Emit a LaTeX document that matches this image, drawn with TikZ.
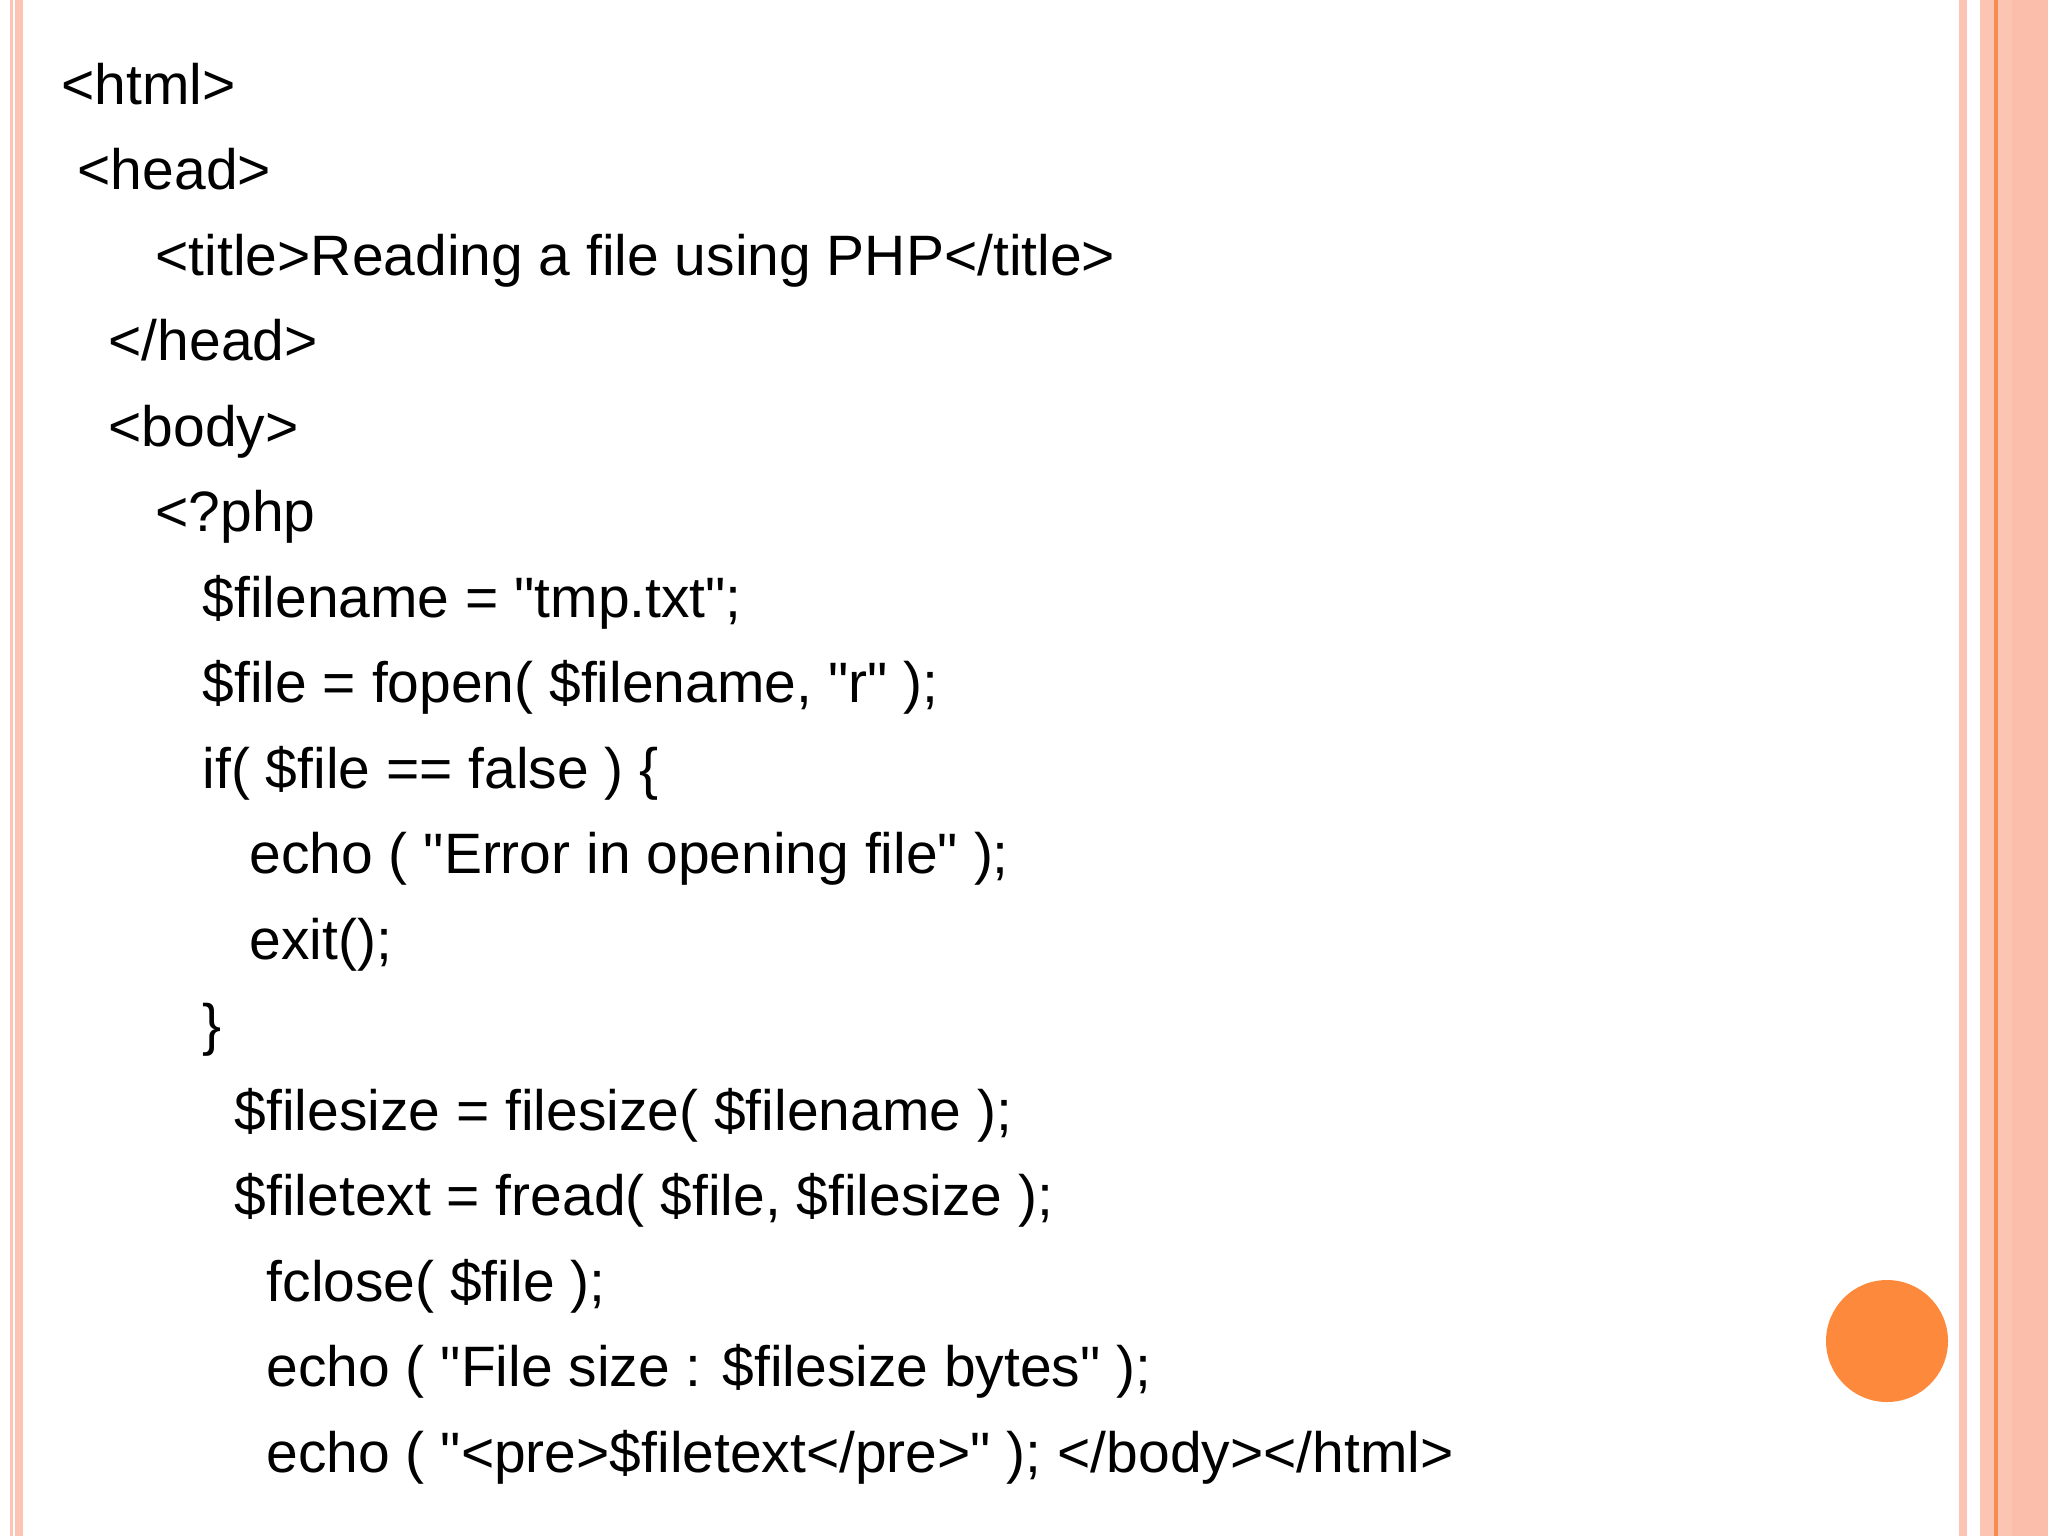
\documentclass[tikz,border=0pt]{standalone}
\usepackage{fontspec}
\setmainfont{Liberation Sans}[Ligatures=TeXOff]
\definecolor{pk}{RGB}{252,196,178}
\definecolor{pkd}{RGB}{250,190,170}
\definecolor{org}{RGB}{253,138,60}
\definecolor{orl}{RGB}{245,140,80}
\begin{document}
\begin{tikzpicture}[x=0.01cm,y=-0.01cm,
  code/.style={anchor=base west,inner sep=0pt,font=\fontsize{16.2pt}{18pt}\selectfont}]
\useasboundingbox (0,0) rectangle (2048,1536);
\fill[pk] (10,0) rectangle (13,1536);
\fill[pk] (15,0) rectangle (23,1536);
\fill[pk] (1959,0) rectangle (1967,1536);
\fill[pk] (1980,0) rectangle (2048,1536);
\fill[pkd] (2012,0) rectangle (2048,1536);
\draw[orl,line width=1.2pt] (1996,0) -- (1996,1536);
\fill[org] (1887,1341) circle (61);
\foreach \i/\x/\t in {
 0/61/{<html>},
 1/77/{<head>},
 2/155/{<title>Reading a file using PHP</title>},
 3/108/{</head>},
 4/108/{<body>},
 5/155/{<?php},
 6/202/{\$filename = "tmp.txt";},
 7/202/{\$file = fopen( \$filename, "r" );},
 8/202/{if( \$file == false ) \{},
 9/249/{echo ( "Error in opening file" );},
 10/249/{exit();},
 11/202/{\}},
 12/234/{\$filesize = filesize( \$filename );},
 13/234/{\$filetext = fread( \$file, \$filesize );},
 14/266/{fclose( \$file );},
 15/266/{echo ( "File size : \$filesize bytes" );},
 16/266/{echo ( "<pre>\$filetext</pre>" ); </body></html>}}
 \node[code] (l\i) at (\x,{104+85.5*\i}) {\t};
\end{tikzpicture}
\end{document}
